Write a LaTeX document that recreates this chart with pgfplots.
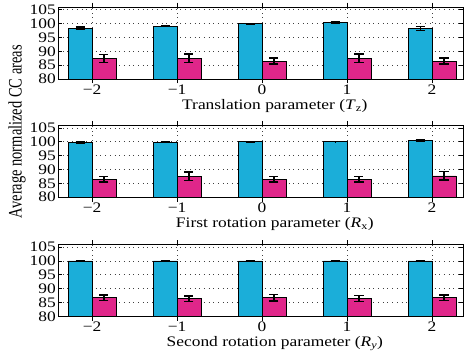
\documentclass[border=0pt]{standalone}
\usepackage{fontspec}
\setmainfont{Liberation Serif}[FakeStretch=1.2]
\newfontfamily\yfont{Liberation Serif}[FakeStretch=0.76]
\usepackage{pgfplots}
\pgfplotsset{compat=1.18}
\usepackage{pgfplotstable}
\definecolor{cblue}{RGB}{27,174,217}
\definecolor{cpink}{RGB}{224,38,138}

\pgfplotstableread{
x y e
-2 98.3 0.5
-1 99.0 0.15
0 100.0 0.1
1 100.4 0.2
2 98.2 0.7
}\TzA
\pgfplotstableread{
x y e
-2 87.5 1.4
-1 87.6 1.5
0 86.5 1.1
1 87.5 1.6
2 86.5 1.1
}\TzB
\pgfplotstableread{
x y e
-2 99.8 0.2
-1 99.9 0.15
0 100.0 0.1
1 100.1 0.1
2 100.4 0.25
}\RxA
\pgfplotstableread{
x y e
-2 86.5 1.0
-1 87.6 1.5
0 86.5 1.0
1 86.5 1.0
2 87.7 1.5
}\RxB
\pgfplotstableread{
x y e
-2 100.0 0.15
-1 100.0 0.15
0 100.0 0.15
1 100.0 0.15
2 100.0 0.15
}\RyA
\pgfplotstableread{
x y e
-2 86.7 1.0
-1 86.4 1.0
0 86.7 1.1
1 86.4 1.1
2 86.7 1.0
}\RyB

\pgfplotsset{panel/.style={
  scale only axis, width=405pt, height=72pt,
  xmin=-2.4, xmax=2.37, ymin=80, ymax=106,
  xtick={-2,-1,0,1,2}, xticklabels={−2,−1,0,1,2},
  ytick={80,85,...,105},
  grid=major, major grid style={dash pattern=on 0.7pt off 4pt, black!75, line width=0.6pt},
  axis line style={line width=0.9pt},
  tick style={black, line width=0.6pt},
  tick align=inside,
  ticklabel style={font=\fontsize{14.5}{14.5}\selectfont},
  xticklabel style={inner sep=1pt},
  yticklabel style={inner sep=2pt},
  label style={font=\fontsize{14.5}{16}\selectfont},
  xlabel style={inner sep=0pt, yshift=-3.5pt, xshift=14pt},
  /pgf/number format/assume math mode=true,
  ybar, bar width=0.28,
}}
\pgfplotsset{bb/.style={draw=black, line width=0.7pt, bar shift=#1,
  error bars/.cd, y dir=both, y explicit,
  error bar style={line width=1.3pt, black},
  error mark options={rotate=90, mark size=4.5pt, line width=1.3pt, black}}}

\begin{document}
\begin{tikzpicture}
\path (-58pt,79pt) -- (0,0) -- (0,-277pt);
\begin{axis}[panel, at={(0,0)}, xlabel={Translation parameter (\textit{T}\textsubscript{z})}]
\addplot[fill=cblue, bb=-0.14] table[x=x,y=y,y error=e]{\TzA};
\addplot[fill=cpink, bb=0.14] table[x=x,y=y,y error=e]{\TzB};
\end{axis}
\begin{axis}[panel, at={(0,-118pt)}, xlabel={First rotation parameter (\textit{R}\textsubscript{x})},
  ylabel={Average normalized CC areas},
  ylabel style={font=\yfont\fontsize{19}{20}\selectfont, at={(rel axis cs:-0.101,0.91)}, anchor=center, inner sep=0pt}]
\addplot[fill=cblue, bb=-0.14] table[x=x,y=y,y error=e]{\RxA};
\addplot[fill=cpink, bb=0.14] table[x=x,y=y,y error=e]{\RxB};
\end{axis}
\begin{axis}[panel, at={(0,-237pt)}, xlabel={Second rotation parameter (\textit{R}\textsubscript{\textit{y}})}]
\addplot[fill=cblue, bb=-0.14] table[x=x,y=y,y error=e]{\RyA};
\addplot[fill=cpink, bb=0.14] table[x=x,y=y,y error=e]{\RyB};
\end{axis}
\end{tikzpicture}
\end{document}
